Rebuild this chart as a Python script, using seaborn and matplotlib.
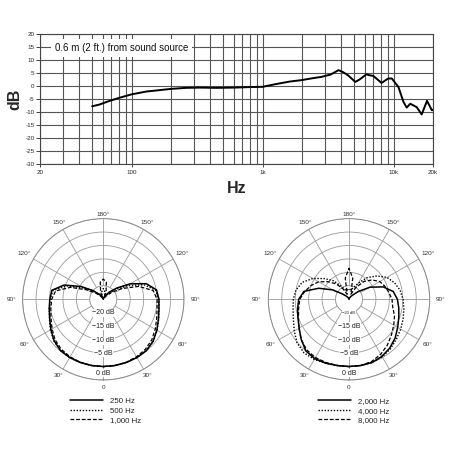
import numpy as np
import matplotlib
matplotlib.use("Agg")
import matplotlib.pyplot as plt
import seaborn as sns
from matplotlib.ticker import FixedLocator, LogLocator, NullFormatter

# frequency response, 0.6 m from source
freq_hz = [50, 57, 68, 81, 100, 130, 155, 200, 260, 330, 450, 600, 800, 1000,
           1250, 1600, 2000, 2400, 2800, 3300, 3800, 4100, 4500, 5100, 5500,
           6200, 6600, 7000, 8100, 9100, 9700, 10900, 11900, 12600, 13400,
           15000, 16400, 18000, 19600, 20000]
response_db = [-7.7, -7.0, -5.6, -4.4, -3.1, -2.0, -1.6, -1.0, -0.6, -0.5, -0.6,
               -0.5, -0.3, -0.2, 0.8, 1.8, 2.4, 3.1, 3.6, 4.5, 6.2, 5.5, 4.2,
               1.7, 2.6, 4.6, 4.2, 4.0, 1.3, 3.0, 3.0, -0.3, -6.0, -8.2, -6.7,
               -8.0, -10.8, -5.6, -9.2, -9.0]
freq_ticks = [20, 100, 1000, 10000, 20000]
freq_ticklabels = ["20", "100", "1k", "10k", "20k"]

# polar patterns, angle 0 = on axis (bottom), counter-clockwise
angles_deg = np.arange(0, 361, 10)
low_labels = ["250 Hz", "500 Hz", "1,000 Hz"]
pat_250 = [0, 0, 0, 0, -0.1, -0.8, -2.0, -3.2, -4.0, -4.3, -4.9, -8.0, -13.5,
           -18.5, -21.5, -23.2, -24.2, -24.7, -25,
           -24.7, -24.2, -23.5, -22.5, -20.0, -15.5, -9.5, -5.6, -5.1, -4.6,
           -3.8, -2.5, -1.1, -0.2, 0, 0, 0, 0]
pat_500 = [0, 0, 0, 0, -0.1, -0.8, -1.9, -3.1, -4.0, -4.4, -5.3, -9.0, -15.0,
           -19.5, -22.5, -24.0, -23.5, -22.0, -21.0,
           -22.0, -23.5, -24.0, -22.5, -20.0, -16.5, -10.5, -6.0, -5.2, -4.6,
           -3.7, -2.3, -1.0, -0.2, 0, 0, 0, 0]
pat_1000 = [0, 0, -0.1, -0.3, -0.7, -1.5, -2.7, -3.9, -4.7, -5.0, -6.2, -11.0,
            -17.0, -21.0, -23.5, -24.5, -22.0, -18.5, -17.5,
            -18.5, -22.0, -24.5, -23.5, -21.5, -18.0, -12.0, -7.0, -5.8, -5.2,
            -4.3, -3.0, -1.6, -0.7, -0.3, -0.1, 0, 0]

high_labels = ["2,000 Hz", "4,000 Hz", "8,000 Hz"]
pat_2000 = [0, 0, 0, -0.5, -1.4, -2.6, -4.1, -5.3, -6.2, -7.0, -8.3, -11.5,
            -16.0, -20.5, -23.0, -24.0, -24.5, -24.8, -25,
            -24.8, -24.6, -24.2, -23.5, -22.0, -18.0, -13.0, -8.0, -6.3, -5.6,
            -4.8, -3.6, -1.8, 0, 0.5, 0.3, 0, 0]
pat_4000 = [0, 0, 0, -0.3, -1.0, -2.0, -2.8, -3.6, -4.3, -4.9, -5.7, -7.0,
            -8.7, -11.5, -14.5, -18.0, -20.5, -21.5, -21.0,
            -21.5, -21.5, -19.5, -16.0, -13.0, -9.5, -6.5, -5.0, -4.3, -3.9,
            -3.0, -1.5, 0.2, 1.0, 0.8, 0.3, 0, 0]
pat_8000 = [0, 0, -0.4, -1.4, -2.8, -4.4, -5.8, -7.0, -8.5, -9.0, -10.0, -10.8,
            -11.8, -13.8, -16.3, -20.0, -23.0, -17.0, -13.5,
            -17.0, -23.0, -20.5, -17.5, -14.8, -12.0, -10.0, -8.3, -6.7, -6.0,
            -5.0, -3.5, -1.8, -0.5, 0, 0, 0, 0]

angle_ticks = [0, 30, 60, 90, 120, 150, 180, 210, 240, 270, 300, 330]
angle_labels = ["0", "30°", "60°", "90°", "120°", "150°", "180°",
                "150°", "120°", "90°", "60°", "30°"]
ring_labels = ["−20 dB", "−15 dB", "−10 dB", "−5 dB", "0 dB"]

sns.set_style("white")
plt.rcParams["font.family"] = ["Liberation Sans", "DejaVu Sans"]
plt.rcParams["axes.unicode_minus"] = False

fig = plt.figure(figsize=(4.5, 4.5), dpi=100)
W = 450.0

# ---- frequency response ----
ax = fig.add_axes([40 / W, 1 - 164.3 / W, 393 / W, 130 / W])
sns.lineplot(x=freq_hz, y=response_db, ax=ax, color="black", lw=1.4,
             sort=False, zorder=3)
ax.set_xscale("log")
ax.set_xlim(20, 20000)
ax.set_ylim(-30, 20)
ax.set_yticks(range(-30, 21, 5))
ax.xaxis.set_major_locator(FixedLocator(freq_ticks))
ax.set_xticklabels(freq_ticklabels)
ax.xaxis.set_minor_locator(LogLocator(base=10, subs=np.arange(1, 10), numticks=20))
ax.xaxis.set_minor_formatter(NullFormatter())
ax.grid(True, which="both", axis="x", color="#555555", lw=0.8)
ax.grid(True, which="major", axis="y", color="#555555", lw=0.8)
ax.tick_params(axis="y", labelsize=4.5, length=3, width=0.6, pad=1, left=True)
ax.tick_params(axis="x", which="major", labelsize=4.5, length=2, width=0.6,
               pad=2, bottom=True)
ax.tick_params(axis="x", which="minor", length=0)
for s in ax.spines.values():
    s.set_color("#444444")
    s.set_linewidth(0.8)
ax.set_xlabel("")
ax.set_ylabel("")
ax.text(0.207, 0.897, "0.6 m (2 ft.) from sound source", transform=ax.transAxes,
        ha="center", va="center", fontsize=7, color="#111111",
        bbox=dict(facecolor="white", edgecolor="none", boxstyle="square,pad=0.4"),
        zorder=4)
fig.text(237 / W, 1 - 189 / W, "Hz", ha="center", va="center",
         fontsize=11.5, fontweight="bold")
fig.text(15 / W, 1 - 99 / W, "dB", ha="center", va="center", rotation=90,
         fontsize=11.5, fontweight="bold")


# ---- polar patterns ----
def draw_polar(left, series, labels, legend_x, small_inner):
    pax = fig.add_axes([left / W, 1 - 380 / W, 161.4 / W, 161.4 / W],
                       projection="polar")
    theta = np.deg2rad(angles_deg)
    styles = ["-", (0, (1, 1.2)), (0, (3, 1.5))]
    widths = [1.1, 1.0, 0.9]
    for vals, lab, ls, lw in zip(series, labels, styles, widths):
        sns.lineplot(x=theta, y=vals, ax=pax, color="black", lw=lw,
                     linestyle=ls, sort=False, clip_on=False, label=lab,
                     zorder=4)
    pax.set_theta_zero_location("S")
    pax.set_theta_direction(1)
    pax.set_rorigin(-25)
    pax.set_ylim(-20, 5)
    pax.set_yticks([-20, -15, -10, -5, 0, 5])
    pax.set_yticklabels([])
    pax.set_thetagrids(angle_ticks, labels=[""] * len(angle_ticks))
    pax.grid(color="#9a9a9a", lw=0.6)
    pax.spines["polar"].set_color("#8a8a8a")
    pax.spines["polar"].set_linewidth(0.7)
    pax.spines["inner"].set_color("#9a9a9a")
    pax.spines["inner"].set_linewidth(0.6)
    pax.set_xlabel("")
    pax.set_ylabel("")
    for a, txt in zip(angle_ticks, angle_labels):
        r_lab = 6.6 + 2.6 * abs(np.sin(np.deg2rad(a))) + (1.2 if a == 0 else 0)
        pax.text(np.deg2rad(a), r_lab, txt, ha="center", va="center",
                 fontsize=4.6, color="#333333", clip_on=False)
    for r, txt in zip([-20, -15, -9.6, -5, 2.4], ring_labels):
        fs = 3 if (small_inner and r == -20) else 5
        pax.text(0, r, txt, ha="center", va="center", fontsize=fs,
                 color="#222222", zorder=5,
                 bbox=dict(facecolor="white", edgecolor="none", pad=0.4))
    pax.legend(loc="upper left", bbox_to_anchor=(legend_x / W, 1 - 397.5 / W),
               bbox_transform=fig.transFigure, frameon=False, fontsize=5.7,
               handlelength=4.2, handletextpad=0.8, labelspacing=0.25,
               borderpad=0, borderaxespad=0)
    return pax


draw_polar(22.6, [pat_250, pat_500, pat_1000], low_labels, 70, False)
draw_polar(268.3, [pat_2000, pat_4000, pat_8000], high_labels, 318, True)

fig.savefig("out.png", dpi=100, facecolor="white")
